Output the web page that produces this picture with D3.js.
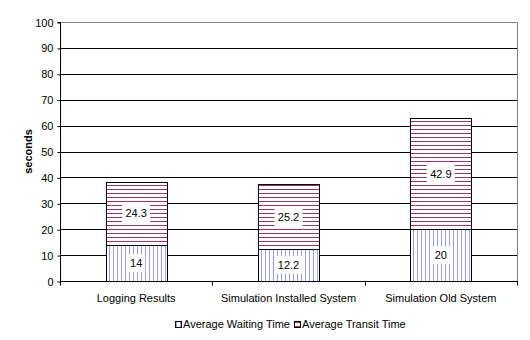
<!DOCTYPE html>
<html>
<head>
<meta charset="utf-8">
<script src="https://cdn.jsdelivr.net/npm/d3@7"></script>
<style>
  body { margin: 0; background: #fff; }
  text { font-family: "Liberation Sans", Arial, sans-serif; }
</style>
</head>
<body>
<div class="chart"></div>
<script>
  var categories = ["Logging Results", "Simulation Installed System", "Simulation Old System"];
  var waiting = [14, 12.2, 20];
  var transit = [24.3, 25.2, 42.9];
  var yTicks = [0, 10, 20, 30, 40, 50, 60, 70, 80, 90, 100];
  var seriesNames = ["Average Waiting Time", "Average Transit Time"];

  var width = 530, height = 340;
  var margin = { left: 60, right: 13, top: 22, bottom: 59 };

  var svg = d3.select(".chart").append("svg")
    .attr("width", width)
    .attr("height", height);

  var defs = svg.append("defs");
  // vertical blue stripes
  var p1 = defs.append("pattern").attr("id", "pWait")
    .attr("patternUnits", "userSpaceOnUse").attr("width", 4).attr("height", 4);
  p1.append("rect").attr("width", 4).attr("height", 4).attr("fill", "#fff");
  p1.append("rect").attr("x", 1).attr("width", 1).attr("height", 4).attr("fill", "#9999ff")
    .attr("shape-rendering", "crispEdges");
  // horizontal maroon stripes
  var p2 = defs.append("pattern").attr("id", "pTransit")
    .attr("patternUnits", "userSpaceOnUse").attr("width", 4).attr("height", 4);
  p2.append("rect").attr("width", 4).attr("height", 4).attr("fill", "#fff");
  p2.append("rect").attr("y", 1).attr("width", 4).attr("height", 1).attr("fill", "#993366")
    .attr("shape-rendering", "crispEdges");

  var x = d3.scaleBand()
    .domain(categories)
    .range([margin.left, width - margin.right]);

  var y = d3.scaleLinear()
    .domain([0, 100])
    .range([height - margin.bottom, margin.top]);

  // gridlines
  svg.append("g").selectAll("line")
    .data(yTicks.filter(function(d) { return d > 0 && d < 100; }))
    .enter().append("line")
    .attr("x1", margin.left).attr("x2", width - margin.right)
    .attr("y1", function(d) { return Math.round(y(d)) + 0.5; })
    .attr("y2", function(d) { return Math.round(y(d)) + 0.5; })
    .attr("stroke", "#000");

  // top and right border (grey)
  svg.append("path")
    .attr("d", "M" + margin.left + "," + (Math.round(y(100)) + 0.5) +
      "H" + (width - margin.right + 0.5) + "V" + y(0))
    .attr("fill", "none")
    .attr("stroke", "#808080");

  var barW = x.bandwidth() * 0.4;
  var stacks = categories.map(function(c, i) {
    return [
      { cat: c, y0: 0, y1: waiting[i], v: waiting[i], fill: "url(#pWait)" },
      { cat: c, y0: waiting[i], y1: waiting[i] + transit[i], v: transit[i], fill: "url(#pTransit)" }
    ];
  });
  var segs = d3.merge(stacks);

  var bars = svg.append("g");
  bars.selectAll("rect")
    .data(segs)
    .enter().append("rect")
    .attr("x", function(d) { return Math.round(x(d.cat) + (x.bandwidth() - barW) / 2) + 0.5; })
    .attr("width", Math.round(barW))
    .attr("y", function(d) { return Math.round(y(d.y1)) + 0.5; })
    .attr("height", function(d) { return Math.round(y(d.y0)) - Math.round(y(d.y1)); })
    .attr("fill", function(d) { return d.fill; })
    .attr("stroke", "#000");

  // value labels with white boxes
  var lab = svg.append("g").selectAll("g")
    .data(segs)
    .enter().append("g")
    .attr("transform", function(d) {
      return "translate(" + (x(d.cat) + x.bandwidth() / 2) + "," + Math.round(y((d.y0 + d.y1) / 2)) + ")";
    });
  lab.append("rect")
    .attr("x", function(d) { return -(String(d.v).length * 2.5 + 4); })
    .attr("width", function(d) { return String(d.v).length * 5 + 8; })
    .attr("y", -9).attr("height", 18)
    .attr("fill", "#fff");
  lab.append("text")
    .attr("text-anchor", "middle")
    .attr("dy", "0.35em")
    .attr("font-size", 11)
    .text(function(d) { return d.v; });

  // y axis
  var yAxis = svg.append("g")
    .attr("transform", "translate(" + (margin.left + 0.5) + ",0.5)")
    .call(d3.axisLeft(y).tickValues(yTicks).tickSize(3).tickPadding(4).tickFormat(d3.format("d")));
  yAxis.select(".domain").attr("stroke", "#000").attr("d", "M-3," + Math.round(y(100)) + "H0V" + Math.round(y(0)));
  yAxis.selectAll(".tick line").attr("stroke", "#000");
  yAxis.selectAll("text").attr("font-size", 11).attr("font-family", "Liberation Sans, Arial, sans-serif").attr("fill", "#000");

  // x axis
  var x0 = Math.round(y(0)) + 0.5;
  svg.append("line")
    .attr("x1", margin.left).attr("x2", width - margin.right + 1)
    .attr("y1", x0).attr("y2", x0).attr("stroke", "#000");
  svg.append("g").selectAll("line")
    .data(categories.concat([null]))
    .enter().append("line")
    .attr("x1", function(d, i) { return Math.round(margin.left + i * x.step()) + 0.5; })
    .attr("x2", function(d, i) { return Math.round(margin.left + i * x.step()) + 0.5; })
    .attr("y1", x0).attr("y2", x0 + 4)
    .attr("stroke", "#000");
  svg.append("g").selectAll("text")
    .data(categories)
    .enter().append("text")
    .attr("x", function(d) { return x(d) + x.bandwidth() / 2; })
    .attr("y", 302)
    .attr("text-anchor", "middle")
    .attr("font-size", 11)
    .text(function(d) { return d; });

  // y title
  svg.append("text")
    .attr("transform", "translate(32," + y(50) + ") rotate(-90)")
    .attr("text-anchor", "middle")
    .attr("font-size", 11)
    .attr("font-weight", "bold")
    .text("seconds");

  // legend
  var legendX = [175, 294];
  var legendFill = ["url(#pWait)", "url(#pTransit)"];
  var leg = svg.append("g").selectAll("g")
    .data(seriesNames)
    .enter().append("g")
    .attr("transform", function(d, i) { return "translate(" + legendX[i] + ",321)"; });
  leg.append("rect")
    .attr("x", 0.5).attr("y", 0.5).attr("width", 6).attr("height", 6)
    .attr("fill", function(d, i) { return legendFill[i]; })
    .attr("stroke", "#000");
  leg.append("text")
    .attr("x", 8).attr("y", 7)
    .attr("font-size", 11)
    .text(function(d) { return d; });
</script>
</body>
</html>
